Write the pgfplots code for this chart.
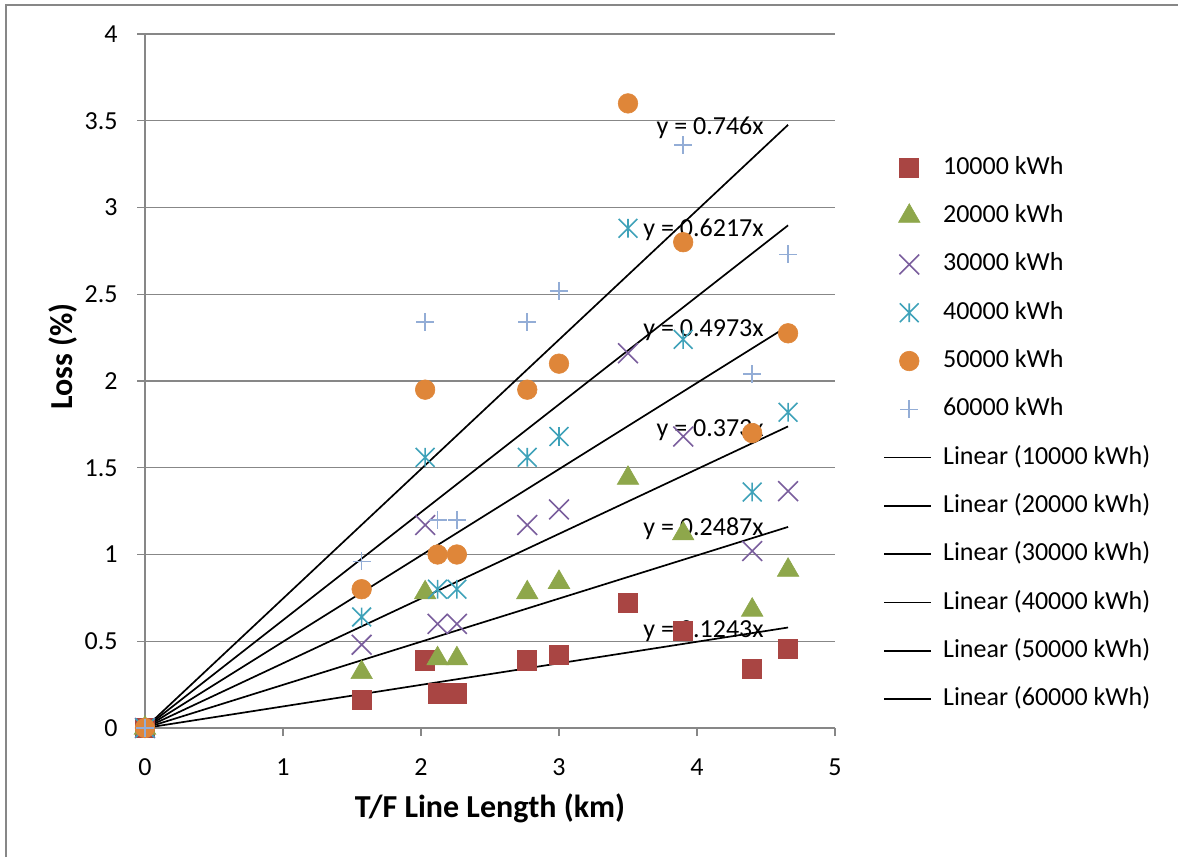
\documentclass[border=0pt]{standalone}
\usepackage{pgfplots}
\pgfplotsset{compat=1.18}
\usepackage{fontspec}
\setmainfont{Carlito}
\definecolor{gridc}{HTML}{878787}
\definecolor{c1}{HTML}{A94543}
\definecolor{c2}{HTML}{8EA74B}
\definecolor{c3}{HTML}{7A5E9D}
\definecolor{c4}{HTML}{3FA2B9}
\definecolor{c5}{HTML}{DF8639}
\definecolor{c6}{HTML}{93ADD6}
\pgfdeclareplotmark{xstar}{%
  \pgfpathmoveto{\pgfqpoint{0pt}{\pgfplotmarksize}}%
  \pgfpathlineto{\pgfqpoint{0pt}{-\pgfplotmarksize}}%
  \pgfpathmoveto{\pgfqpoint{-\pgfplotmarksize}{-\pgfplotmarksize}}%
  \pgfpathlineto{\pgfqpoint{\pgfplotmarksize}{\pgfplotmarksize}}%
  \pgfpathmoveto{\pgfqpoint{-\pgfplotmarksize}{\pgfplotmarksize}}%
  \pgfpathlineto{\pgfqpoint{\pgfplotmarksize}{-\pgfplotmarksize}}%
  \pgfusepathqstroke}
\begin{document}
\begin{tikzpicture}
\path[use as bounding box] (0,0) rectangle (589pt,428.5pt);
\draw[color=gridc, line width=1pt] (3pt,0) -- (3pt,426pt) -- (589pt,426pt);
\begin{axis}[
  at={(72.5pt,64.5pt)}, anchor=south west,
  scale only axis, width=345pt, height=347pt,
  xmin=0, xmax=5, ymin=0, ymax=4,
  xtick={0,1,2,3,4,5}, ytick={0,0.5,1,1.5,2,2.5,3,3.5,4},
  axis x line*=bottom, axis y line*=left,
  ymajorgrids, grid style={color=gridc, line width=0.6pt},
  axis line style={color=gridc, line width=0.6pt},
  tick style={color=gridc, line width=0.6pt},
  tick align=outside, major tick length=4pt,
  clip=false,
  /pgf/number format/assume math mode=true,
  ticklabel style={font=\fontsize{13}{15}\selectfont, inner sep=0pt},
  yticklabel style={anchor=east, xshift=-9.5pt},
  xticklabel style={anchor=north, yshift=-11pt},
  xlabel={T/F Line Length (km)}, ylabel={Loss (\%)},
  label style={font=\bfseries\fontsize{16}{19}\selectfont, inner sep=0pt},
  xlabel style={at={(axis description cs:0.5,0)}, anchor=base, yshift=-44.5pt},
  ylabel style={at={(axis description cs:-0.119,0.458)}, anchor=west, rotate=0},
  legend style={draw=none, fill=none, at={(rel axis cs:1.0609,0.8315)}, anchor=north west,
    font=\fontsize{13}{15}\selectfont, row sep=11.65pt,
    nodes={inner sep=0pt, text height=9.5pt, text depth=3pt},
    /tikz/every odd column/.append style={column sep=5.5pt}},
  legend cell align=left,
  legend image code/.code={\draw[mark repeat=2,mark phase=2,#1] plot coordinates {(0pt,0pt)(12.5pt,0pt)(23.5pt,0pt)};},
]
\addplot[only marks, mark=square*, mark size=4.8pt, mark options={draw=c1, fill=c1, line width=0.4pt}] coordinates {
(0,0) (1.57,0.16) (2.03,0.39) (2.12,0.20) (2.26,0.20) (2.77,0.39) (3.0,0.42) (3.5,0.72) (3.9,0.56) (4.4,0.34) (4.66,0.455)};
\addlegendentry{10000 kWh}
\addplot[only marks, mark=triangle*, mark size=6.2pt, mark options={draw=c2, fill=c2, line width=0.3pt}] coordinates {
(0,0) (1.57,0.32) (2.03,0.78) (2.12,0.40) (2.26,0.40) (2.77,0.78) (3.0,0.84) (3.5,1.44) (3.9,1.12) (4.4,0.68) (4.66,0.91)};
\addlegendentry{20000 kWh}
\addplot[only marks, mark=x, mark size=7pt, mark options={draw=c3, line width=0.8pt}] coordinates {
(0,0) (1.57,0.48) (2.03,1.17) (2.12,0.60) (2.26,0.60) (2.77,1.17) (3.0,1.26) (3.5,2.16) (3.9,1.68) (4.4,1.02) (4.66,1.365)};
\addlegendentry{30000 kWh}
\addplot[only marks, mark=xstar, mark size=4.7pt, mark options={draw=c4, line width=0.8pt}] coordinates {
(0,0) (1.57,0.64) (2.03,1.56) (2.12,0.80) (2.26,0.80) (2.77,1.56) (3.0,1.68) (3.5,2.88) (3.9,2.24) (4.4,1.36) (4.66,1.82)};
\addlegendentry{40000 kWh}
\addplot[only marks, mark=*, mark size=4.9pt, mark options={draw=c5, fill=c5, line width=0.3pt}] coordinates {
(0,0) (1.57,0.80) (2.03,1.95) (2.12,1.00) (2.26,1.00) (2.77,1.95) (3.0,2.10) (3.5,3.60) (3.9,2.80) (4.4,1.70) (4.66,2.275)};
\addlegendentry{50000 kWh}
\addplot[only marks, mark=+, mark size=4.5pt, mark options={draw=c6, line width=0.8pt}, restrict y to domain=0:4] coordinates {
(0,0) (1.57,0.96) (2.03,2.34) (2.12,1.20) (2.26,1.20) (2.77,2.34) (3.0,2.52) (3.5,4.32) (3.9,3.36) (4.4,2.04) (4.66,2.73)};
\addlegendentry{60000 kWh}
\addplot[black, line width=0.85pt, no marks] coordinates {(0,0) (4.66,0.5792)};
\addlegendentry{Linear (10000 kWh)}
\addplot[black, line width=0.85pt, no marks] coordinates {(0,0) (4.66,1.1589)};
\addlegendentry{Linear (20000 kWh)}
\addplot[black, line width=0.85pt, no marks] coordinates {(0,0) (4.66,1.7382)};
\addlegendentry{Linear (30000 kWh)}
\addplot[black, line width=0.85pt, no marks] coordinates {(0,0) (4.66,2.3174)};
\addlegendentry{Linear (40000 kWh)}
\addplot[black, line width=0.85pt, no marks] coordinates {(0,0) (4.66,2.8971)};
\addlegendentry{Linear (50000 kWh)}
\addplot[black, line width=0.85pt, no marks] coordinates {(0,0) (4.66,3.4764)};
\addlegendentry{Linear (60000 kWh)}
\begin{scope}[every node/.style={anchor=base east, inner sep=0pt, font=\fontsize{13}{15}\selectfont}]
\node at (axis cs:4.486,3.418) {y = 0.746x};
\node at (axis cs:4.486,2.830) {y = 0.6217x};
\node at (axis cs:4.486,2.259) {y = 0.4973x};
\node at (axis cs:4.486,1.683) {y = 0.373x};
\node at (axis cs:4.486,1.107) {y = 0.2487x};
\node at (axis cs:4.486,0.524) {y = 0.1243x};
\end{scope}
\end{axis}
\end{tikzpicture}
\end{document}
